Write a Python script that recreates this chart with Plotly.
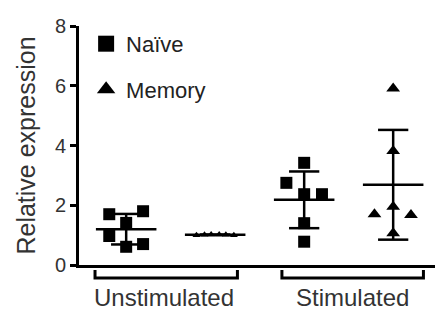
import numpy as np
import plotly.graph_objects as go

# ---- data ----
groups = ["Unstimulated", "Stimulated"]
naive_unstim = [1.70, 1.80, 1.41, 0.97, 0.61, 0.70]
memory_unstim = [1.00, 1.01, 1.02, 1.02, 1.01, 1.00]
naive_stim = [3.42, 2.75, 2.37, 2.37, 1.40, 0.78]
memory_stim = [5.91, 3.82, 1.95, 1.70, 1.67, 1.06]
y_ticks = [0, 2, 4, 6, 8]

# ---- layout helpers (positions / jitter, not data) ----
positions = [1, 2, 3, 4]
jitter = [
    [-0.19, 0.19, 0.0, -0.19, 0.0, 0.19],
    [-0.21, -0.12, -0.045, 0.045, 0.12, 0.21],
    [0.0, -0.2, 0.0, 0.2, 0.0, 0.0],
    [0.0, 0.0, 0.0, -0.21, 0.2, 0.0],
]
series = [naive_unstim, memory_unstim, naive_stim, memory_stim]
symbols = ["square", "triangle-up", "square", "triangle-up"]
sizes = [12, 7, 12, 12]

fig = go.Figure()
LC = "black"
for pos, vals, jit, sym, sz in zip(positions, series, jitter, symbols, sizes):
    v = np.array(vals)
    m, sd = v.mean(), v.std(ddof=1)
    fig.add_trace(go.Scatter(
        x=[pos + j for j in jit], y=vals, mode="markers",
        marker=dict(symbol=sym, size=sz, color="black", line=dict(width=0)),
        showlegend=False, hoverinfo="skip"))
    # mean line
    fig.add_trace(go.Scatter(x=[pos - 0.34, pos + 0.34], y=[m, m], mode="lines",
                             line=dict(color=LC, width=2.5), showlegend=False))
    # sd bar + caps
    fig.add_trace(go.Scatter(
        x=[pos, pos, None, pos - 0.17, pos + 0.17, None, pos - 0.17, pos + 0.17],
        y=[m - sd, m + sd, None, m + sd, m + sd, None, m - sd, m - sd],
        mode="lines", line=dict(color=LC, width=2.5), showlegend=False))

# legend entries
fig.add_trace(go.Scatter(x=[None], y=[None], mode="markers", name="Naïve",
                         marker=dict(symbol="square", size=16, color="black"),
                         legendgroup="a"))
fig.add_trace(go.Scatter(x=[None], y=[None], mode="markers", name="Memory",
                         marker=dict(symbol="triangle-up", size=18, color="black"),
                         legendgroup="b"))

# brackets under the x axis
spans = [(0.65, 2.25), (2.75, 4.34)]
label_x = [1.42, 3.54]
for (a, b), lab, lx in zip(spans, groups, label_x):
    fig.add_shape(type="path", xref="x", yref="paper",
                  path=f"M {a},-0.021 L {a},-0.054 L {b},-0.054 L {b},-0.021",
                  line=dict(color="black", width=3))
    fig.add_annotation(x=lx, y=-0.138, xref="x", yref="paper", text=lab,
                       showarrow=False, yanchor="middle",
                       font=dict(size=24, color="#333", family="Liberation Sans, Arial"))

fig.update_layout(
    width=435, height=313,
    margin=dict(l=79, r=0, t=26, b=48),
    paper_bgcolor="white", plot_bgcolor="white",
    font=dict(family="Liberation Sans, Arial", color="#333"),
    legend=dict(x=0.02, y=1.013, xanchor="left", yanchor="top",
                traceorder="grouped", tracegroupgap=14,
                font=dict(size=22, color="#222"), bgcolor="rgba(0,0,0,0)",
                itemsizing="trace"),
    xaxis=dict(range=[0.47, 4.47], showline=True, linecolor="black", linewidth=3,
               showgrid=False, zeroline=False, showticklabels=False, ticks=""),
    yaxis=dict(range=[0, 8], tickvals=y_ticks, showline=True, linecolor="black",
               linewidth=3, showgrid=False, zeroline=False, ticks="outside",
               ticklen=6, tickwidth=2.5, tickcolor="black",
               tickfont=dict(size=20, color="#333"),
               title=dict(text="Relative expression", font=dict(size=25, color="#333"),
                          standoff=13)),
)

fig.write_html("out.html", config={"displayModeBar": False},
               post_script="document.body.style.margin='0px';")
